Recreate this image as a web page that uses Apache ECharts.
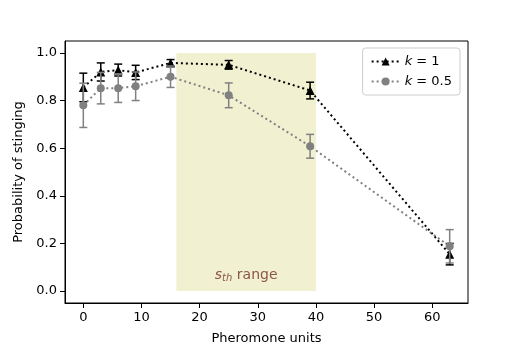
<!DOCTYPE html>
<html lang="en">
<head>
<meta charset="UTF-8">
<title>Probability of stinging</title>
<script src="https://cdn.jsdelivr.net/npm/echarts@6/dist/echarts.min.js"></script>
<style>
  html, body { margin: 0; padding: 0; background: #fff; }
  #chart { width: 520px; height: 346px; }
</style>
</head>
<body>
<div id="chart"></div>
<script>
// data
const pheromone = [0, 3, 6, 9, 15, 25, 39, 63];
const k1 = [0.855, 0.92, 0.928, 0.918, 0.958, 0.95, 0.842, 0.155];
const k1Err = [0.06, 0.038, 0.025, 0.03, 0.014, 0.018, 0.035, 0.045];
const k05 = [0.78, 0.852, 0.852, 0.86, 0.90, 0.822, 0.608, 0.188];
const k05Err = [0.093, 0.066, 0.06, 0.06, 0.045, 0.052, 0.05, 0.07];
const xTicks = [0, 10, 20, 30, 40, 50, 60];
const yTicks = [0, 0.2, 0.4, 0.6, 0.8, 1.0];
const sthRange = [16, 40];

const font = 'DejaVu Sans';
let myChart = echarts.init(document.getElementById('chart'));

function pairs(ys) {
    return pheromone.map((x, i) => [x, ys[i]]);
}
function errData(ys, es) {
    return pheromone.map((x, i) => [x, ys[i] - es[i], ys[i] + es[i]]);
}
function errRender(color) {
    return function (params, api) {
        let lo = api.coord([api.value(0), api.value(1)]);
        let hi = api.coord([api.value(0), api.value(2)]);
        let cw = 4;
        let st = { stroke: color, lineWidth: 1.5 };
        return {
            type: 'group',
            children: [
                { type: 'line', shape: { x1: lo[0], y1: lo[1], x2: hi[0], y2: hi[1] }, style: st },
                { type: 'line', shape: { x1: lo[0] - cw, y1: lo[1], x2: lo[0] + cw, y2: lo[1] }, style: st },
                { type: 'line', shape: { x1: hi[0] - cw, y1: hi[1], x2: hi[0] + cw, y2: hi[1] }, style: st }
            ]
        };
    };
}

let option = {
    animation: false,
    textStyle: { fontFamily: font },
    grid: {
        left: 65, right: 52, top: 41, bottom: 43,
        outerBoundsMode: 'none',
        show: true, borderColor: '#000', borderWidth: 1
    },
    legend: {
        data: ['k1', 'k05'],
        orient: 'vertical',
        right: 60, top: 48,
        itemWidth: 28, itemHeight: 10, itemGap: 7,
        padding: [7, 8, 7, 8],
        borderColor: '#cccccc', borderWidth: 1, borderRadius: 3,
        backgroundColor: 'rgba(255,255,255,0.8)',
        formatter: function (name) {
            return name === 'k1' ? '{i|k} = 1' : '{i|k} = 0.5';
        },
        textStyle: {
            fontFamily: font, fontSize: 13, color: '#000',
            rich: { i: { fontStyle: 'italic', fontFamily: font, fontSize: 13 } }
        }
    },
    xAxis: {
        type: 'value',
        min: -3.15, max: 66.15,
        name: 'Pheromone units',
        nameLocation: 'middle', nameGap: 29,
        nameTextStyle: { fontFamily: font, fontSize: 13, color: '#000' },
        splitLine: { show: false },
        axisLine: { onZero: false, lineStyle: { color: '#000' } },
        axisTick: { length: 5, lineStyle: { color: '#000' }, customValues: xTicks },
        axisLabel: { customValues: xTicks, color: '#000', fontSize: 13, margin: 8 }
    },
    yAxis: {
        type: 'value',
        min: -0.05, max: 1.05,
        name: 'Probability of stinging',
        nameLocation: 'middle', nameGap: 35,
        nameTextStyle: { fontFamily: font, fontSize: 13, color: '#000' },
        splitLine: { show: false },
        axisLine: { show: true, onZero: false, lineStyle: { color: '#000' } },
        axisTick: { show: true, length: 5, lineStyle: { color: '#000' }, customValues: yTicks },
        axisLabel: {
            customValues: yTicks, color: '#000', fontSize: 13, margin: 8,
            formatter: v => v.toFixed(1)
        }
    },
    series: [
        {
            name: 'k1', type: 'line', data: pairs(k1),
            symbol: 'triangle', symbolSize: 9, z: 3,
            itemStyle: { color: '#000' },
            lineStyle: { color: '#000', width: 2, type: [2, 3] },
            markArea: {
                silent: true,
                itemStyle: { color: '#f1f0d1' },
                label: {
                    show: true, position: 'insideBottom', distance: 8,
                    formatter: '{s|s}{sub|th} range',
                    color: '#8c564b', fontSize: 14, fontFamily: font,
                    rich: {
                        s: { fontStyle: 'italic', fontSize: 14, color: '#8c564b', fontFamily: font },
                        sub: { fontStyle: 'italic', fontSize: 10, color: '#8c564b', fontFamily: font, verticalAlign: 'bottom', padding: [6, 0, 0, 0] }
                    }
                },
                data: [[{ coord: [sthRange[0], 0] }, { coord: [sthRange[1], 1] }]]
            }
        },
        {
            name: 'k1err', type: 'custom', data: errData(k1, k1Err),
            renderItem: errRender('#000'), z: 3,
            encode: { x: 0, y: [1, 2] }
        },
        {
            name: 'k05', type: 'line', data: pairs(k05),
            symbol: 'circle', symbolSize: 8, z: 4,
            itemStyle: { color: '#808080' },
            lineStyle: { color: '#808080', width: 2, type: [2, 3] }
        },
        {
            name: 'k05err', type: 'custom', data: errData(k05, k05Err),
            renderItem: errRender('#808080'), z: 4,
            encode: { x: 0, y: [1, 2] }
        }
    ]
};

myChart.setOption(option);
</script>
</body>
</html>
